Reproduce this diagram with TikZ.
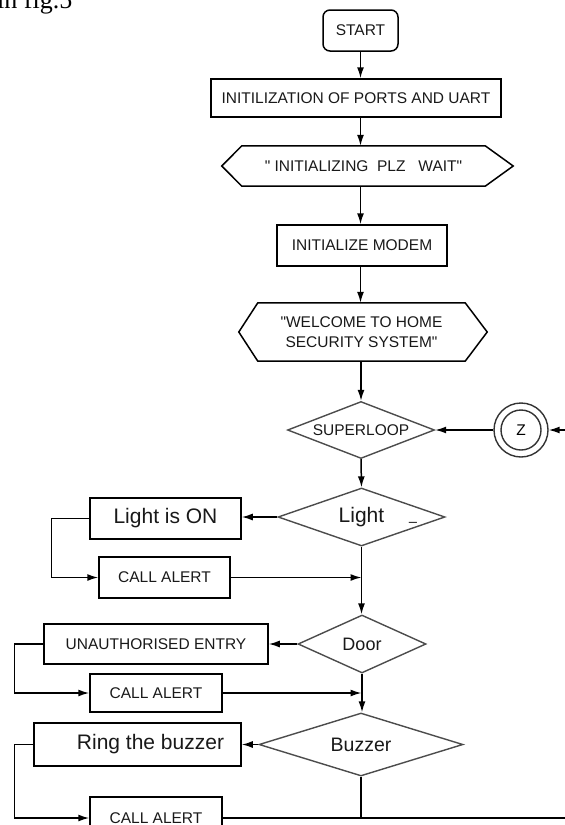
\documentclass[tikz,border=0pt]{standalone}
\usepackage{fontspec}
\setmainfont{Liberation Serif}
\newfontfamily\arialf{Liberation Sans}
\usetikzlibrary{shapes.geometric,arrows.meta}
\tikzset{
  pbox/.style={draw=black,line width=1.5pt,inner sep=0pt,font=\arialf\fontsize{15.5}{18}\selectfont,text=black!90},
  dec/.style={draw=black!70,line width=1.4pt,shape=diamond,inner sep=0pt,font=\arialf\fontsize{15.5}{18}\selectfont,text=black!90},
  hexa/.style={inner sep=0pt,font=\arialf\fontsize{15.5}{20}\selectfont,text=black!90},
  arr/.style={line width=1.5pt,-{Latex[length=11pt,width=7pt]}},
  ln/.style={line width=1.5pt}
}
\begin{document}
\begin{tikzpicture}[x=1pt,y=-1pt]
\useasboundingbox (0,0) rectangle (565,825);
\fill[white] (0,0) rectangle (565,825);

% cut-off caption text at top
\node[anchor=base west,inner sep=0pt,font=\fontsize{26}{30}\selectfont] (cap) at (-3,8) {in fig.5};

% top chain
\node[pbox,rounded corners=7pt,minimum width=75pt,minimum height=41pt] (start) at (360.5,30.5) {START};
\node[pbox,minimum width=290pt,minimum height=38pt] (init) at (356,98) {INITILIZATION OF PORTS AND UART};
\node[hexa,minimum width=243pt,minimum height=40pt] (wait) at (363.5,166) {" INITIALIZING\ \ PLZ\ \ \ WAIT"};
\draw[ln] ([xshift=-20pt]wait.west) -- (wait.north west) -- (wait.north east) -- ([xshift=28pt]wait.east) -- (wait.south east) -- (wait.south west) -- cycle;
\node[pbox,minimum width=170pt,minimum height=41pt] (modem) at (362,245.5) {INITIALIZE MODEM};
\node[hexa,minimum width=207pt,minimum height=58pt,align=center] (welcome) at (361.5,332) {"WELCOME TO HOME\\SECURITY SYSTEM"};
\draw[ln] ([xshift=-19pt]welcome.west) -- (welcome.north west) -- (welcome.north east) -- ([xshift=22pt]welcome.east) -- (welcome.south east) -- (welcome.south west) -- cycle;

\draw[arr] (start.south) -- (start.south |- init.north);
\draw[arr] (init.south -| start.south) -- (wait.north -| start.south);
\draw[arr] (wait.south -| start.south) -- (modem.north -| start.south);
\draw[arr] (modem.south -| start.south) -- (welcome.north -| start.south);

% superloop and connector Z
\node[dec,shape aspect=2.58,minimum width=147pt,minimum height=57pt] (sloop) at (361,430) {SUPERLOOP};
\node[draw=black!80,line width=1.4pt,circle,minimum size=54pt,inner sep=0pt,font=\arialf\fontsize{15.5}{18}\selectfont] (z) at (521,430) {Z};
\draw[line width=1.4pt,draw=black!80] (z.center) circle (20pt);
\coordinate (zin) at (565,430);
\draw[arr] (zin) -- (z.east);
\draw[arr] (z.west) -- (sloop.east);
\draw[arr] (welcome.south -| sloop.north) -- (sloop.north);

% Light
\node[dec,shape aspect=2.88,minimum width=167pt,minimum height=58pt,font=\arialf\fontsize{21}{24}\selectfont] (light) at (361.5,517) {Light};
\node[inner sep=0pt,font=\arialf\fontsize{14}{16}\selectfont] (us) at (413,522) {\_};
\draw[arr] (sloop.south) -- (light.north);
\node[pbox,minimum width=151pt,minimum height=41pt,font=\arialf\fontsize{21}{24}\selectfont] (lighton) at (165.5,518.5) {Light is ON};
\node[pbox,minimum width=131pt,minimum height=41pt] (call1) at (164.5,577.5) {CALL ALERT};
\draw[arr] (light.west) -- (light.west -| lighton.east);
\draw[arr] (lighton.west) -- ++(-38pt,0) |- (call1.west);
\draw[arr] (call1.east) -- (call1.east -| light.south);

% Door
\node[dec,shape aspect=2.2,minimum width=128pt,minimum height=58pt,font=\arialf\fontsize{18}{21}\selectfont] (door) at (362,644) {Door};
\draw[arr] (light.south) -- (light.south |- door.north);
\node[pbox,minimum width=224pt,minimum height=40pt] (unauth) at (156,644) {UNAUTHORISED ENTRY};
\node[pbox,minimum width=132pt,minimum height=38pt] (call2) at (156,693) {CALL ALERT};
\draw[arr] (door.west) -- (door.west -| unauth.east);
\draw[arr] (unauth.west) -- ++(-29pt,0) |- (call2.west);
\draw[arr] (call2.east) -- (call2.east -| light.south);

% Buzzer
\node[dec,shape aspect=3.24,minimum width=204pt,minimum height=63pt,font=\arialf\fontsize{19.5}{22}\selectfont] (buzzer) at (361,744.5) {Buzzer};
\draw[arr] (door.south) -- (door.south |- buzzer.north);
\node[pbox,minimum width=207pt,minimum height=43pt,font=\arialf\fontsize{21}{24}\selectfont] (ring) at (137.5,744.5) {\hspace*{26pt}Ring the buzzer};
\node[pbox,minimum width=132pt,minimum height=42pt] (call3) at (156,818) {CALL ALERT};
\draw[arr] (buzzer.west) -- (buzzer.west -| ring.east);
\draw[arr] (ring.west) -- ++(-19pt,0) |- (call3.west);
\coordinate (endc) at (565,818);
\draw[ln] (call3.east) -- (endc);
\draw[ln] (buzzer.south) -- (buzzer.south |- call3.east);
\end{tikzpicture}
\end{document}
